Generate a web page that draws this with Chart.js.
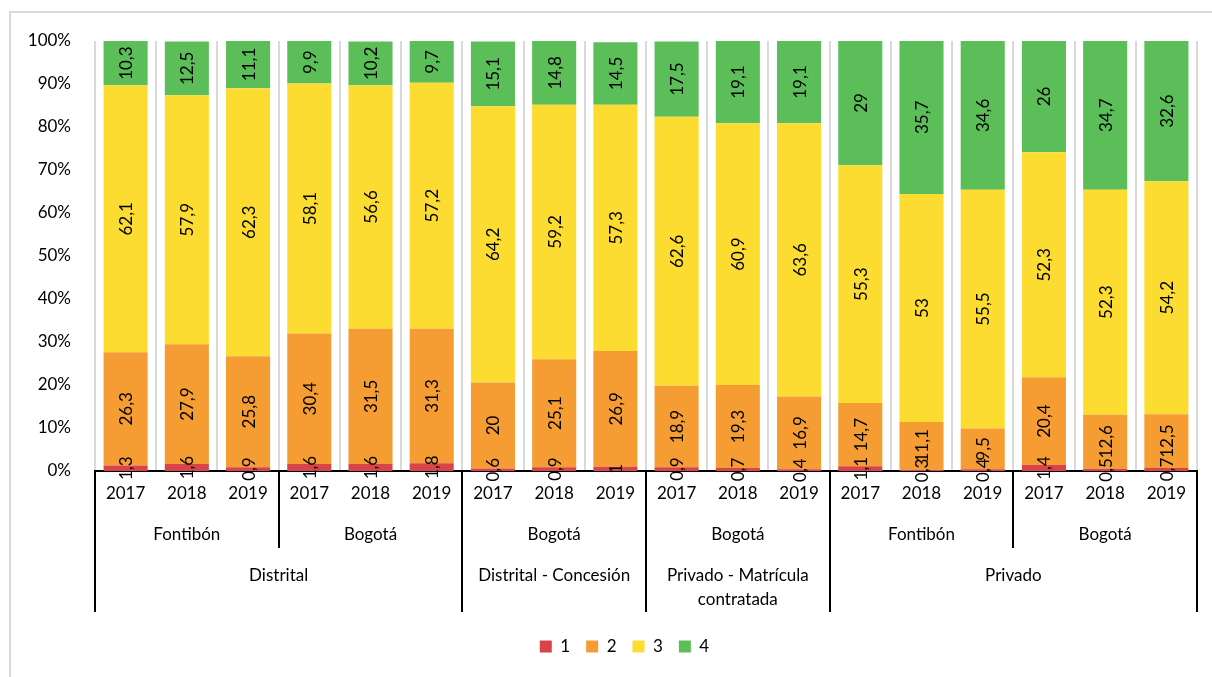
<!DOCTYPE html>
<html>
<head>
<meta charset="utf-8">
<script src="https://cdn.jsdelivr.net/npm/chart.js@4/dist/chart.umd.min.js"></script>
<style>
html, body { margin: 0; padding: 0; background: #fff; }
#wrap { width: 1212px; height: 677px; }
</style>
</head>
<body>
<div id="wrap"><canvas id="myChart" width="1212" height="677"></canvas></div>
<script>
var years = ['2017', '2018', '2019', '2017', '2018', '2019', '2017', '2018', '2019',
             '2017', '2018', '2019', '2017', '2018', '2019', '2017', '2018', '2019'];
var places = ['Fontibón', 'Bogotá', 'Bogotá', 'Bogotá', 'Fontibón', 'Bogotá'];
var sectors = [['Distrital'], ['Distrital - Concesión'], ['Privado - Matrícula', 'contratada'], ['Privado']];
var sectorSpan = [6, 3, 3, 6];

var s1 = [1.3, 1.6, 0.9, 1.6, 1.6, 1.8, 0.6, 0.9, 1, 0.9, 0.7, 0.4, 1.1, 0.3, 0.4, 1.4, 0.5, 0.7];
var s2 = [26.3, 27.9, 25.8, 30.4, 31.5, 31.3, 20, 25.1, 26.9, 18.9, 19.3, 16.9, 14.7, 11.1, 9.5, 20.4, 12.6, 12.5];
var s3 = [62.1, 57.9, 62.3, 58.1, 56.6, 57.2, 64.2, 59.2, 57.3, 62.6, 60.9, 63.6, 55.3, 53, 55.5, 52.3, 52.3, 54.2];
var s4 = [10.3, 12.5, 11.1, 9.9, 10.2, 9.7, 15.1, 14.8, 14.5, 17.5, 19.1, 19.1, 29, 35.7, 34.6, 26, 34.7, 32.6];

var FONT = 'Lato, sans-serif';
var FS = 17;

// light grey frame of the chart area
var frame = {
    id: 'frame',
    beforeDraw: function(chart) {
        var c = chart.ctx;
        c.save();
        c.fillStyle = '#fff';
        c.fillRect(0, 0, chart.width, chart.height);
        c.strokeStyle = '#d9d9d9';
        c.lineWidth = 2;
        c.beginPath();
        c.moveTo(10, chart.height + 5);
        c.lineTo(10, 12);
        c.lineTo(chart.width + 5, 12);
        c.stroke();
        c.restore();
    }
};

// legend sits a bit right of centre in the original
var legendShift = {
    id: 'legendShift',
    afterLayout: function(chart) {
        chart.legend.left += 26;
        chart.legend.right += 26;
    }
};

// rotated value labels in the middle of each segment
var barLabels = {
    id: 'barLabels',
    afterDatasetsDraw: function(chart) {
        var c = chart.ctx;
        c.save();
        c.font = FS + 'px ' + FONT;
        c.fillStyle = '#000';
        c.textAlign = 'center';
        c.textBaseline = 'middle';
        chart.data.datasets.forEach(function(ds, di) {
            var meta = chart.getDatasetMeta(di);
            meta.data.forEach(function(el, i) {
                var v = ds.data[i];
                var y = (el.y + el.base) / 2;
                c.save();
                c.translate(el.x, y);
                c.rotate(-Math.PI / 2);
                c.fillText(String(v).replace('.', ','), 0, 1);
                c.restore();
            });
        });
        c.restore();
    }
};

// second and third level of the category axis
var groupAxis = {
    id: 'groupAxis',
    afterDraw: function(chart) {
        var c = chart.ctx;
        var xs = chart.scales.x;
        var n = years.length;
        var step = (xs.right - xs.left) / n;
        var top = chart.chartArea.bottom;
        function edge(i) { return xs.left + i * step; }
        c.save();
        c.strokeStyle = '#000';
        c.lineWidth = 2;
        var major = [0];
        var acc = 0;
        sectorSpan.forEach(function(s) { acc += s; major.push(acc); });
        for (var i = 0; i <= n; i += 3) {
            var full = major.indexOf(i) >= 0;
            c.beginPath();
            c.moveTo(Math.round(edge(i)), top);
            c.lineTo(Math.round(edge(i)), full ? 612 : 548);
            c.stroke();
        }
        c.font = FS + 'px ' + FONT;
        c.fillStyle = '#000';
        c.textAlign = 'center';
        c.textBaseline = 'middle';
        places.forEach(function(p, k) {
            c.fillText(p, (edge(k * 3) + edge(k * 3 + 3)) / 2, 535);
        });
        var start = 0;
        sectors.forEach(function(lines, k) {
            var cx = (edge(start) + edge(start + sectorSpan[k])) / 2;
            lines.forEach(function(t, j) {
                c.fillText(t, cx, 576 + j * 24);
            });
            start += sectorSpan[k];
        });
        c.restore();
    }
};

var ctx = document.getElementById('myChart').getContext('2d');
var myChart = new Chart(ctx, {
    type: 'bar',
    data: {
        labels: years,
        datasets: [
            { label: '1', data: s1, backgroundColor: '#d9434a' },
            { label: '2', data: s2, backgroundColor: '#f59d33' },
            { label: '3', data: s3, backgroundColor: '#fddc31' },
            { label: '4', data: s4, backgroundColor: '#5cbe59' }
        ]
    },
    options: {
        responsive: false,
        animation: false,
        devicePixelRatio: 1,
        layout: { padding: { top: 41, right: 15, left: 0, bottom: 12 } },
        datasets: { bar: { categoryPercentage: 1, barPercentage: 0.72, borderWidth: 0 } },
        scales: {
            x: {
                stacked: true,
                grid: { color: '#d9d9d9', lineWidth: 2, drawTicks: false, offset: true },
                border: { display: true, color: '#000', width: 2 },
                ticks: { color: '#000', font: { family: FONT, size: FS }, padding: 12, maxRotation: 0, autoSkip: false },
                afterFit: function(scale) { scale.height = 151; }
            },
            y: {
                stacked: true,
                min: 0,
                max: 100,
                grid: { display: false },
                border: { display: false },
                ticks: {
                    stepSize: 10,
                    color: '#000',
                    font: { family: FONT, size: FS },
                    padding: 16,
                    callback: function(v) { return v + '%'; }
                },
                afterFit: function(scale) { scale.width = 95; }
            }
        },
        plugins: {
            legend: {
                position: 'bottom',
                labels: {
                    boxWidth: 12,
                    boxHeight: 12,
                    padding: 16,
                    color: '#000',
                    font: { family: FONT, size: FS }
                }
            },
            tooltip: { enabled: false }
        }
    },
    plugins: [frame, legendShift, barLabels, groupAxis]
});
</script>
</body>
</html>
